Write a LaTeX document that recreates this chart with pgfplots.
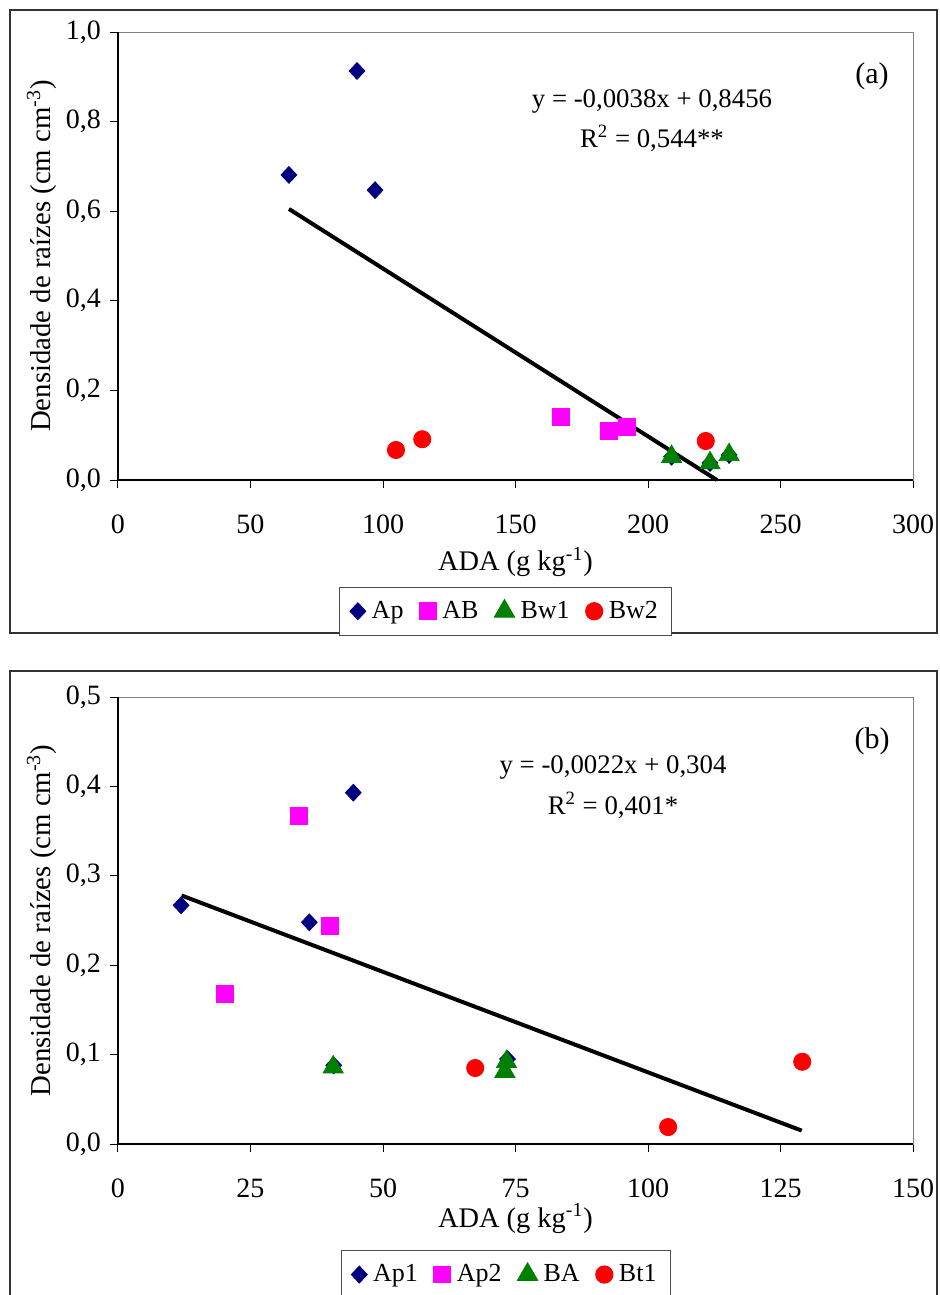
\documentclass[border=0pt]{standalone}
\usepackage{fontspec}
\setmainfont{Liberation Serif}
\usepackage{pgfplots}
\pgfplotsset{compat=1.18}

\definecolor{cAp}{RGB}{0,0,128}
\definecolor{cAB}{RGB}{255,0,255}
\definecolor{cBw}{RGB}{0,128,0}
\definecolor{cBt}{RGB}{255,0,0}

\pgfplotsset{
  panel/.style={
    scale only axis, width=397.5pt,
    clip=false,
    axis line style={draw=gray, line width=0.5pt},
    xtick pos=left, ytick pos=left,
    tick align=outside, major tick length=4pt,
    tick style={black, line width=0.5pt},
    minor tick num=0,
    font=\fontsize{13}{15}\selectfont,
    tick label style={font=\fontsize{14}{16}\selectfont},
    /pgf/number format/assume math mode=true,
    /pgf/number format/use comma,
    xticklabel style={yshift=-10pt},
    yticklabel style={xshift=-1pt},
    xlabel style={at={(axis description cs:0.5,-0.183)}, anchor=center,
      font=\fontsize{14.2}{16}\selectfont},
    ylabel style={at={(axis description cs:-0.096,0.5)}, anchor=center,
      font=\fontsize{14.4}{16}\selectfont},
    legend columns=4,
    legend style={draw=black!70, line width=0.5pt, font=\fontsize{13}{15}\selectfont,
      inner xsep=5pt, inner ysep=5pt,
      /tikz/every odd column/.append style={column sep=1pt},
      /tikz/every even column/.append style={column sep=6pt}},
    legend cell align=left,
  },
  sAp/.style={only marks, mark=diamond*, mark size=4.2pt, color=cAp, mark options={xscale=1.25}},
  sAB/.style={only marks, mark=square*, mark size=4.2pt, color=cAB},
  sBw/.style={only marks, mark=triangle*, mark size=5.8pt, color=cBw},
  sBt/.style={only marks, mark=*, mark size=4.3pt, color=cBt},
}

\begin{document}
\begin{tikzpicture}
\useasboundingbox (0pt,0pt) rectangle (470pt,-647.5pt);
\clip (0pt,0pt) rectangle (470pt,-647.5pt);
\draw[black!80, line width=0.6pt] (5pt,-5pt) rectangle (468.5pt,-316.5pt);
\draw[black!80, line width=0.6pt] (5pt,-335.5pt) rectangle (468.5pt,-700pt);

% (a)
\begin{axis}[panel, at={(59pt,-240pt)}, anchor=south west, height=224pt,
  xmin=0, xmax=300, ymin=0, ymax=1,
  xtick={0,50,...,300}, ytick={0,0.2,...,1.0},
  yticklabel style={/pgf/number format/.cd, fixed, fixed zerofill, precision=1},
  xlabel={ADA (g kg\textsuperscript{-1})},
  ylabel={Densidade de raízes (cm cm\textsuperscript{-3})},
  legend style={at={(0.488,-0.238)}, anchor=north}]
\draw[black, line width=0.6pt] (rel axis cs:0,1) -- (rel axis cs:0,0) -- (rel axis cs:1,0);
\addplot[sAp] coordinates {(90.2,0.913)(64.5,0.681)(97,0.647)(208.9,0.052)(223.4,0.038)(230.6,0.056)};
\addplot[sAB] coordinates {(167.2,0.141)(185.3,0.109)(192.1,0.118)};
\addplot[sBw] coordinates {(208.9,0.052)(223.4,0.038)(230.6,0.056)};
\addplot[sBt] coordinates {(104.9,0.067)(114.8,0.091)(221.8,0.087)};
\addplot[black, line width=2pt, forget plot] coordinates {(64.5,0.605)(226,0)};
\legend{Ap,AB,Bw1,Bw2}
\node[font=\fontsize{15}{17}\selectfont] at (axis cs:284.5,0.902) {(a)};
\node[font=\fontsize{13.4}{15}\selectfont] at (axis cs:201.5,0.846) {y = -0,0038x + 0,8456};
\node[font=\fontsize{13.4}{15}\selectfont] at (axis cs:201.5,0.763) {R\textsuperscript{2} = 0,544**};
\end{axis}

% (b)
\begin{axis}[panel, at={(59pt,-572pt)}, anchor=south west, height=223.5pt,
  xmin=0, xmax=150, ymin=0, ymax=0.5,
  xtick={0,25,...,150}, ytick={0,0.1,...,0.5},
  yticklabel style={/pgf/number format/.cd, fixed, fixed zerofill, precision=1},
  xlabel={ADA (g kg\textsuperscript{-1})},
  ylabel={Densidade de raízes (cm cm\textsuperscript{-3})},
  xlabel style={at={(axis description cs:0.5,-0.167)}},
  legend style={at={(0.488,-0.237)}, anchor=north}]
\draw[black, line width=0.6pt] (rel axis cs:0,1) -- (rel axis cs:0,0) -- (rel axis cs:1,0);
\addplot[sAp] coordinates {(11.9,0.267)(36.1,0.248)(44.4,0.393)(40.7,0.088)(73.5,0.095)};
\addplot[sAB] coordinates {(34.2,0.367)(40.0,0.244)(20.1,0.168)};
\addplot[sBw] coordinates {(40.6,0.086)(73.3,0.092)(73.0,0.081)};
\addplot[sBt] coordinates {(67.4,0.085)(103.8,0.019)(129.1,0.092)};
\addplot[black, line width=2pt, forget plot] coordinates {(12,0.278)(129,0.015)};
\legend{Ap1,Ap2,BA,Bt1}
\node[font=\fontsize{15}{17}\selectfont] at (axis cs:142.3,0.451) {(b)};
\node[font=\fontsize{13.4}{15}\selectfont] at (axis cs:93.4,0.421) {y = -0,0022x + 0,304};
\node[font=\fontsize{13.4}{15}\selectfont] at (axis cs:93.4,0.379) {R\textsuperscript{2} = 0,401*};
\end{axis}
\end{tikzpicture}
\end{document}
